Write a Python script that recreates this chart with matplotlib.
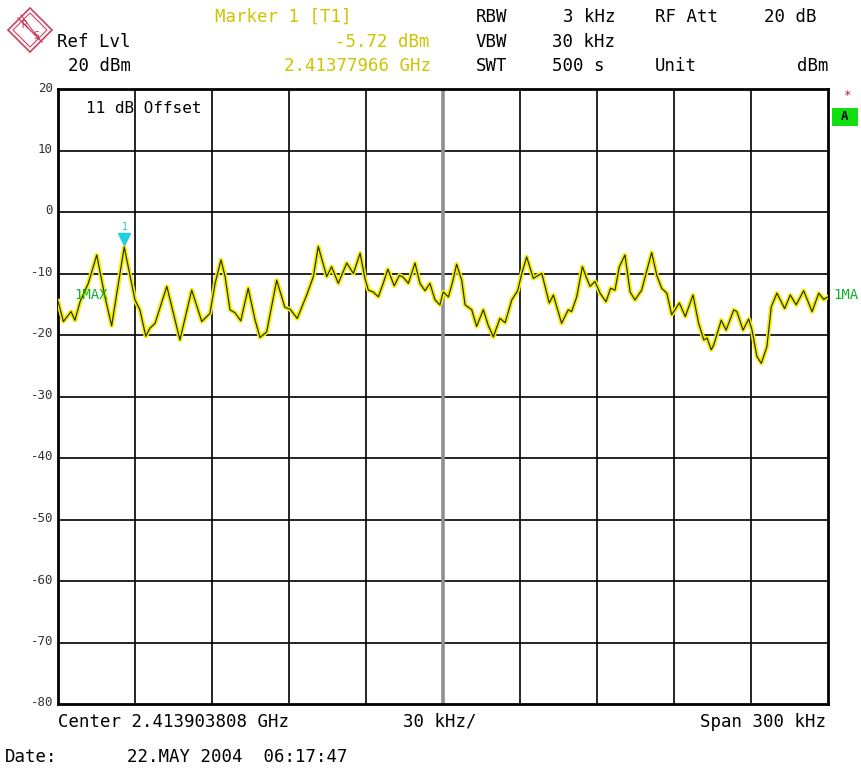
import matplotlib
matplotlib.use("Agg")
import matplotlib.pyplot as plt
from matplotlib.patches import Polygon, Rectangle

# ---- data (frequency offset from center in kHz, level in dBm) ----
freq_khz = [-150.0, -147.9, -144.9, -143.4, -141.4, -138.2, -134.9, -131.7, -129.1, -124.2,
            -120.0, -118.1, -115.8, -114.2, -112.2, -107.6, -102.5, -97.9, -94.0, -90.8,
            -88.8, -86.5, -84.9, -83.0, -81.0, -78.8, -75.9, -73.2, -71.3, -68.7,
            -64.8, -61.6, -59.6, -56.8, -53.1, -50.5, -48.6, -45.3, -43.4, -40.8,
            -37.5, -34.9, -32.3, -30.4, -29.1, -27.2, -25.2, -23.3, -21.5, -19.0,
            -17.0, -15.5, -13.5, -10.9, -9.0, -7.0, -5.1, -3.1, -1.2, 0.1,
            2.1, 3.6, 5.3, 7.3, 8.6, 11.2, 13.1, 15.7, 17.6, 19.6,
            22.2, 24.2, 26.8, 29.1, 30.7, 32.6, 35.2, 37.1, 38.5, 41.4,
            43.0, 46.2, 48.8, 50.1, 52.1, 54.3, 56.0, 57.3, 59.2, 61.2,
            63.5, 65.3, 67.0, 68.7, 70.9, 72.9, 74.8, 77.4, 79.1, 81.3,
            83.3, 85.2, 87.2, 89.1, 92.1, 94.4, 97.4, 99.6, 101.6, 102.9,
            104.5, 105.5, 108.4, 110.3, 113.3, 114.5, 116.9, 119.1, 120.4, 122.3,
            124.0, 126.2, 127.9, 130.1, 133.1, 135.3, 137.6, 140.5, 143.8, 146.4,
            148.3, 150.0]
level_dbm = [-14.5, -17.8, -16.2, -17.6, -14.6, -11.6, -7.0, -13.8, -18.5, -5.7,
             -14.3, -15.9, -20.2, -18.9, -18.1, -12.1, -20.8, -12.7, -17.8, -16.5,
             -11.6, -7.8, -10.5, -15.9, -16.4, -17.7, -12.4, -17.6, -20.4, -19.5,
             -11.1, -15.5, -15.8, -17.3, -13.5, -10.5, -5.6, -10.5, -8.9, -11.6,
             -8.3, -10.0, -6.7, -10.8, -12.7, -13.0, -13.8, -11.6, -9.3, -12.0,
             -10.3, -10.6, -11.6, -8.3, -11.6, -12.8, -11.6, -14.3, -15.1, -13.0,
             -13.8, -11.6, -8.5, -11.1, -15.1, -15.9, -18.6, -15.9, -18.4, -20.3,
             -17.3, -18.0, -14.3, -12.8, -10.0, -7.3, -10.8, -10.3, -10.0, -14.8,
             -13.5, -18.1, -15.9, -16.2, -13.8, -8.9, -10.8, -12.1, -11.3, -13.2,
             -14.6, -12.4, -12.7, -8.9, -7.0, -13.0, -14.3, -12.7, -10.0, -6.6,
             -10.3, -12.4, -13.2, -16.7, -14.8, -17.0, -13.5, -18.1, -20.8, -20.5,
             -22.4, -21.6, -17.6, -19.2, -15.9, -16.2, -19.2, -17.4, -19.2, -23.5,
             -24.6, -21.9, -15.4, -13.2, -15.7, -13.5, -15.1, -12.8, -16.2, -13.2,
             -14.2, -13.8]

y_ticks = [20, 10, 0, -10, -20, -30, -40, -50, -60, -70, -80]
y_tick_labels = ["20", "10", "0", "-10", "-20", "-30", "-40", "-50", "-60", "-70", "-80"]
x_grid_khz = [-150, -120, -90, -60, -30, 0, 30, 60, 90, 120, 150]

marker_freq = -124.15
marker_level = -5.72

W, H = 862, 769
fig = plt.figure(figsize=(W / 100, H / 100), dpi=100)
fig.patch.set_facecolor("white")

L, R, T, B = 58, 828, 89, 704
ax = fig.add_axes([L / W, 1 - B / H, (R - L) / W, (B - T) / H])
ax.set_xlim(-150, 150)
ax.set_ylim(-80, 20)
ax.set_xticks([])
ax.set_yticks([])
for s in ax.spines.values():
    s.set_linewidth(2.0)
    s.set_color("black")

# grid
for y in y_ticks[1:-1]:
    ax.axhline(y, color="black", lw=1.2, zorder=1)
for x in x_grid_khz[1:-1]:
    if x == 0:
        ax.axvline(x, color="#909090", lw=2.6, zorder=1)
    else:
        ax.axvline(x, color="black", lw=1.2, zorder=1)

# trace
ax.plot(freq_khz, level_dbm, color="#f2ee00", lw=3.2, zorder=3, solid_joinstyle="round")
ax.plot(freq_khz, level_dbm, color="#222200", lw=0.8, zorder=4)

# marker
ax.plot([marker_freq], [marker_level + 1.4], marker="v", color="#20d0e0",
        markersize=8, zorder=5, clip_on=False)
ax.text(marker_freq, marker_level + 3.3, "1", color="#20c0d8", fontsize=7,
        ha="center", va="center", family="DejaVu Sans Mono", zorder=5)

mono = "DejaVu Sans Mono"
ax.text(-143.5, -13.5, "1MAX", color="#10b030", fontsize=10, family=mono,
        ha="left", va="center", zorder=6)
ax.text(-139, 18, "11 dB Offset", color="black", fontsize=11.5, family=mono,
        ha="left", va="top", zorder=6)


def ftext(x, y, s, color="black", size=12.5, ha="left", **kw):
    fig.text(x / W, 1 - y / H, s, color=color, fontsize=size, family=mono,
             ha=ha, va="center", **kw)


ylw = "#cfc400"
# header
ftext(215, 17, "Marker 1 [T1]", color=ylw)
ftext(57, 42, "Ref Lvl")
ftext(430, 42, "-5.72 dBm", color=ylw, ha="right")
ftext(68, 66, "20 dBm")
ftext(431, 66, "2.41377966 GHz", color=ylw, ha="right")
ftext(476, 17, "RBW")
ftext(476, 42, "VBW")
ftext(476, 66, "SWT")
ftext(616, 17, "3 kHz", ha="right")
ftext(552, 42, "30 kHz")
ftext(552, 66, "500 s")
ftext(655, 17, "RF Att")
ftext(817, 17, "20 dB", ha="right")
ftext(655, 66, "Unit")
ftext(829, 66, "dBm", ha="right")

# y tick labels
for v, lab in zip(y_ticks, y_tick_labels):
    ypx = T + (20 - v) / 100 * (B - T)
    ftext(53, ypx - 1, lab, size=9, ha="right", color="#333333")

# right side annotations
ftext(833, 295, "1MA", color="#10b030", size=10)
fig.patches.append(Rectangle((832 / W, 1 - 126 / H), 26 / W, 18 / H,
                             transform=fig.transFigure, facecolor="#10e010",
                             edgecolor="none"))
ftext(845, 117, "A", size=9, ha="center", weight="bold")
ftext(847, 96, "*", size=9, ha="center", color="#c02040")

# bottom texts
ftext(58, 722, "Center 2.413903808 GHz")
ftext(403, 722, "30 kHz/")
ftext(826, 722, "Span 300 kHz", ha="right")
ftext(5, 757, "Date:")
ftext(127, 757, "22.MAY 2004  06:17:47")

# R&S style logo (diamond)
cx, cy, r = 30, 30, 22
pts = [((cx) / W, 1 - (cy - r) / H), ((cx + r) / W, 1 - cy / H),
       ((cx) / W, 1 - (cy + r) / H), ((cx - r) / W, 1 - cy / H)]
fig.patches.append(Polygon(pts, closed=True, transform=fig.transFigure,
                           facecolor="white", edgecolor="#d04060", lw=1.2))
r2 = 17
pts2 = [((cx) / W, 1 - (cy - r2) / H), ((cx + r2) / W, 1 - cy / H),
        ((cx) / W, 1 - (cy + r2) / H), ((cx - r2) / W, 1 - cy / H)]
fig.patches.append(Polygon(pts2, closed=True, transform=fig.transFigure,
                           facecolor="none", edgecolor="#d04060", lw=0.8))
fig.lines.append(plt.Line2D([(cx - 12) / W, (cx + 12) / W],
                            [1 - (cy - 12) / H, 1 - (cy + 12) / H],
                            transform=fig.transFigure, color="#d04060", lw=1.0))
fig.lines.append(plt.Line2D([(cx - 9) / W, (cx + 9) / W],
                            [1 - (cy - 15) / H, 1 - (cy + 9) / H],
                            transform=fig.transFigure, color="#d04060", lw=0.8))
ftext(cx - 6, cy - 5, "R", size=7, ha="center", color="#c03050")
ftext(cx + 6, cy + 6, "S", size=7, ha="center", color="#c03050")

fig.savefig("out.png", dpi=100, facecolor="white")
